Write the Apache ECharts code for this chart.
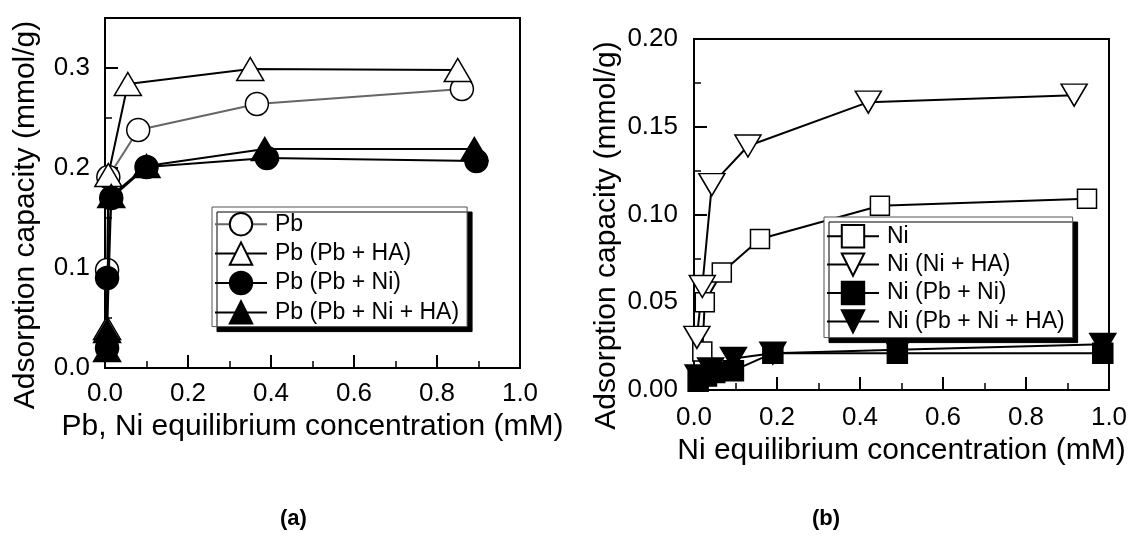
<!DOCTYPE html>
<html>
<head>
<meta charset="utf-8">
<script src="https://cdn.jsdelivr.net/npm/echarts@6/dist/echarts.min.js"></script>
<style>
  html, body { margin: 0; padding: 0; background: #fff; }
  #main { width: 1130px; height: 544px; }
</style>
</head>
<body>
<div id="main"></div>
<script>
// panel (a): Pb uptake
const pbX = [0.005, 0.008, 0.08, 0.366, 0.86];
const pbY = [0.098, 0.191, 0.238, 0.264, 0.279];
const pbHaX = [0.005, 0.008, 0.055, 0.35, 0.85];
const pbHaY = [0.040, 0.193, 0.284, 0.299, 0.298];
const pbNiX = [0.005, 0.005, 0.015, 0.10, 0.39, 0.895];
const pbNiY = [0.020, 0.090, 0.170, 0.201, 0.210, 0.207];
const pbNiHaX = [0.005, 0.005, 0.015, 0.10, 0.385, 0.89];
const pbNiHaY = [0.018, 0.037, 0.172, 0.202, 0.219, 0.219];

// panel (b): Ni uptake
const niX = [0.02, 0.026, 0.067, 0.159, 0.448, 0.947];
const niY = [0.022, 0.050, 0.067, 0.086, 0.105, 0.109];
const niHaX = [0.007, 0.02, 0.043, 0.13, 0.42, 0.916];
const niHaY = [0.030, 0.059, 0.117, 0.139, 0.164, 0.168];
const niPbX = [0.01, 0.03, 0.05, 0.095, 0.19, 0.49, 0.985];
const niPbY = [0.005, 0.008, 0.010, 0.011, 0.021, 0.021, 0.021];
const niPbHaX = [0.01, 0.04, 0.095, 0.19, 0.49, 0.985];
const niPbHaY = [0.008, 0.012, 0.018, 0.021, 0.023, 0.026];

const namesA = ['Pb', 'Pb (Pb + HA)', 'Pb (Pb + Ni)', 'Pb (Pb + Ni + HA)'];
const namesB = ['Ni', 'Ni (Ni + HA)', 'Ni (Pb + Ni)', 'Ni (Pb + Ni + HA)'];

const FONT = 'Liberation Sans, Arial, sans-serif';
const downTri = 'path://M0,0 L20,0 L10,17 Z';

const zip = (xs, ys) => xs.map((x, i) => [x, ys[i]]);

function xAxisFor(gridIndex, name, nameGap, margin) {
    return {
        type: 'value', gridIndex, min: 0, max: 1, interval: 0.2,
        name, nameLocation: 'middle', nameGap,
        nameTextStyle: { fontFamily: FONT, fontSize: 30, color: '#000' },
        axisLine: { show: true, lineStyle: { color: '#000', width: 2 } },
        axisTick: { inside: true, length: 13, lineStyle: { color: '#000', width: 2 } },
        minorTick: { show: true, splitNumber: 2, length: 7, lineStyle: { color: '#000', width: 1.5 } },
        axisLabel: { margin, fontFamily: FONT, fontSize: 26, color: '#000', formatter: v => v.toFixed(1) },
        splitLine: { show: false }
    };
}

// shift pushes the rotated name down the axis (text padding on its trailing side)
function yAxisFor(gridIndex, max, interval, digits, nameGap, margin, shift) {
    return {
        type: 'value', gridIndex, min: 0, max, interval,
        name: 'Adsorption capacity (mmol/g)', nameLocation: 'middle', nameGap,
        nameTextStyle: { fontFamily: FONT, fontSize: 30, color: '#000', padding: [0, shift * 2, 0, 0] },
        axisLine: { show: true, lineStyle: { color: '#000', width: 2 } },
        axisTick: { inside: true, length: 13, lineStyle: { color: '#000', width: 2 } },
        minorTick: { show: true, splitNumber: 2, length: 7, lineStyle: { color: '#000', width: 1.5 } },
        axisLabel: { margin, showMaxLabel: max === 0.2, fontFamily: FONT, fontSize: 26, color: '#000', formatter: v => v.toFixed(digits) },
        splitLine: { show: false }
    };
}

function series(name, data, axis, symbol, size, filled, lineColor) {
    return {
        name, type: 'line', data, xAxisIndex: axis, yAxisIndex: axis,
        symbol, symbolSize: size, showAllSymbol: true,
        lineStyle: { color: lineColor || '#000', width: 2 },
        itemStyle: { color: filled ? '#000' : '#fff', borderColor: '#000', borderWidth: 1.5 },
        emphasis: { disabled: true },
        z: filled ? 3 : 2
    };
}

function legendFor(data, left, top, gap, padding) {
    return {
        data, orient: 'vertical', left, top,
        itemWidth: 52, itemHeight: 28, itemGap: gap,
        padding,
        backgroundColor: '#fff', borderColor: '#555', borderWidth: 1,
        shadowColor: '#000', shadowBlur: 0, shadowOffsetX: 5, shadowOffsetY: 5,
        textStyle: { fontFamily: FONT, fontSize: 23, color: '#000', padding: [0, 0, 0, 3] },
        selectedMode: false
    };
}

const chart = echarts.init(document.getElementById('main'));
chart.setOption({
    animation: false,
    backgroundColor: '#fff',
    title: [
        { text: '{p|(}{b|a}{p|)}', left: 275, top: 503,
          textStyle: { rich: { p: { fontFamily: FONT, fontSize: 22, color: '#000' }, b: { fontFamily: FONT, fontSize: 22, fontWeight: 'bold', color: '#000' } } } },
        { text: '{p|(}{b|b}{p|)}', left: 807, top: 503,
          textStyle: { rich: { p: { fontFamily: FONT, fontSize: 22, color: '#000' }, b: { fontFamily: FONT, fontSize: 22, fontWeight: 'bold', color: '#000' } } } }
    ],
    grid: [
        { left: 105, top: 18, width: 415, height: 350, outerBoundsMode: 'none', containLabel: false,
          show: true, borderColor: '#000', borderWidth: 2, backgroundColor: 'transparent' },
        { left: 694, top: 39, width: 415, height: 351, outerBoundsMode: 'none', containLabel: false,
          show: true, borderColor: '#000', borderWidth: 2, backgroundColor: 'transparent' }
    ],
    xAxis: [
        xAxisFor(0, 'Pb, Ni equilibrium concentration (mM)', 38, 13),
        xAxisFor(1, 'Ni equilibrium concentration (mM)', 43, 15)
    ],
    yAxis: [
        yAxisFor(0, 0.35, 0.1, 1, 64, 15, 22),
        yAxisFor(1, 0.2, 0.05, 2, 72, 16, 21)
    ],
    legend: [
        legendFor(namesA, 212, 207, 5, [5, 8, 2, 2]),
        legendFor(namesB, 824, 217, 4, [7, 8, 4, 2])
    ],
    series: [
        series(namesA[0], zip(pbX, pbY), 0, 'circle', 23, false, '#666'),
        series(namesA[1], zip(pbHaX, pbHaY), 0, 'triangle', [27, 23], false),
        series(namesA[2], zip(pbNiX, pbNiY), 0, 'circle', 23, true),
        series(namesA[3], zip(pbNiHaX, pbNiHaY), 0, 'triangle', [27, 23], true),
        series(namesB[0], zip(niX, niY), 1, 'rect', 19, false),
        series(namesB[1], zip(niHaX, niHaY), 1, downTri, [26, 22], false),
        series(namesB[2], zip(niPbX, niPbY), 1, 'rect', 20, true),
        series(namesB[3], zip(niPbHaX, niPbHaY), 1, downTri, [26, 22], true)
    ]
});
</script>
</body>
</html>
